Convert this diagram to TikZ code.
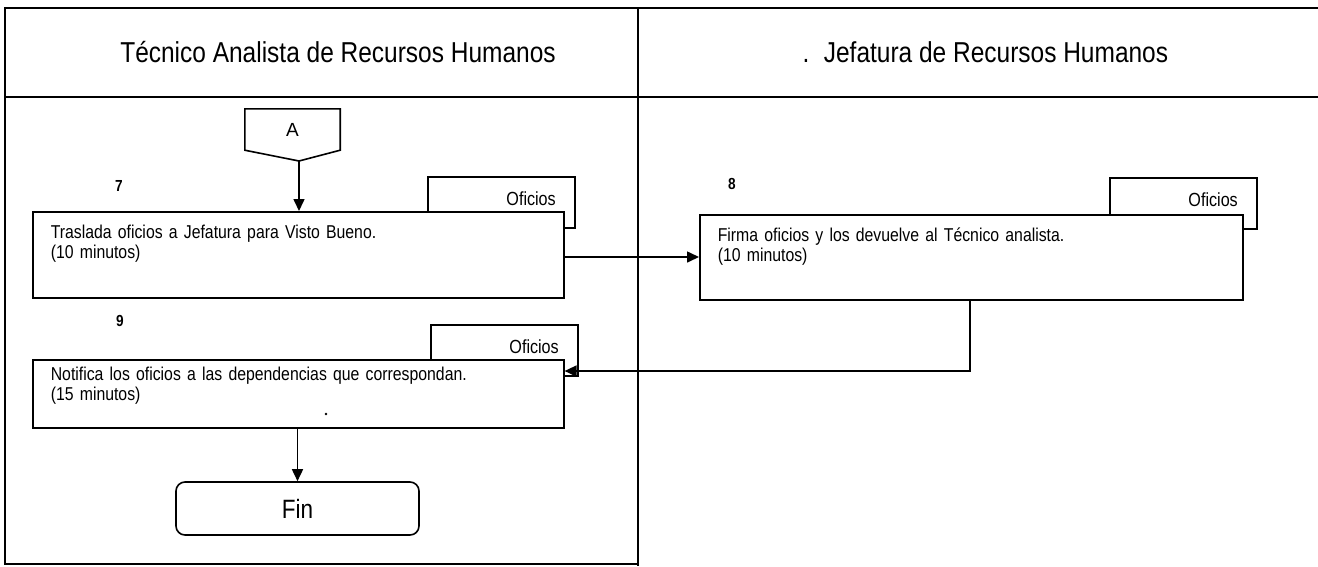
\documentclass[tikz,border=0pt]{standalone}
\usepackage{fontspec}
\setmainfont{Liberation Sans}[FakeStretch=0.85]
\newfontfamily\plainsans{Liberation Sans}
\usetikzlibrary{arrows.meta,calc}
\begin{document}
\begin{tikzpicture}[x=1pt,y=-1pt,
  lane/.style={line width=2pt},
  box/.style={draw, line width=1.6pt, fill=white, rectangle, inner ysep=0pt, align=left,
    font=\fontsize{18.6}{20}\selectfont, anchor=north west},
  tab/.style={draw, line width=1.6pt, fill=white, rectangle, inner ysep=0pt, inner xsep=19pt,
    align=right, anchor=north west, minimum height=51pt, text width=109pt, text depth=8pt,
    font=\fontsize{19}{20}\selectfont},
  num/.style={font=\bfseries\fontsize{16}{18}\selectfont},
  head/.style={font=\fontsize{28.8}{30}\selectfont, anchor=base},
  arr/.style={line width=1.6pt, -{Triangle[length=12pt,width=11pt]}},
  term/.style={draw, line width=1.6pt, rounded corners=9pt, minimum width=243pt, minimum height=53pt,
    font=\fontsize{26.5}{28}\selectfont}]
\useasboundingbox (0,0) rectangle (1318,566);

% lanes
\coordinate (tl) at (5,8);
\coordinate (tr) at (1318,8);
\coordinate (hl) at (5,97);
\coordinate (hr) at (1318,97);
\coordinate (bl) at (5,564);
\coordinate (dt) at (638,8);
\coordinate (db) at (638,566);
\draw[lane] (tr) -- (tl) -- (bl) -- (bl -| dt);
\draw[lane] (hl) -- (hr);
\draw[lane] (dt) -- (db);

\node[head] (h1) at (338,62) {Técnico Analista de Recursos Humanos};
\node[head] (hdot) at (806,62) {.};
\node[head] (h2) at (996,62) {Jefatura de Recursos Humanos};

% connector A
\node[minimum width=95pt, minimum height=41pt, inner sep=0pt, font=\plainsans\fontsize{19}{20}\selectfont]
  (A) at (292.5,129.5) {\raisebox{-3pt}{A}};
\coordinate (Atip) at (299,161);
\draw[line width=1.6pt] (A.south west) -- (A.north west) -- (A.north east) -- (A.south east) -- (Atip) -- cycle;

% step 7
\node[num] (n7) at (119,186) {7};
\node[tab] (t7) at (427,176) {Oficios};
\node[box, minimum width=531pt, minimum height=86pt, inner xsep=18pt, text width=495pt]
  (b7) at (32,211) {Traslada oficios a Jefatura para Visto Bueno.\\(10 minutos)\\\strut};

% step 8
\node[num] (n8) at (732,184) {8};
\node[tab] (t8) at (1109,177) {Oficios};
\node[box, minimum width=543pt, minimum height=85pt, inner xsep=18pt, text width=507pt]
  (b8) at (699,214) {Firma oficios y los devuelve al Técnico analista.\\(10 minutos)\\\strut};

% step 9
\node[num] (n9) at (120,321) {9};
\node[tab] (t9) at (430,324) {Oficios};
\node[box, minimum width=531pt, minimum height=68pt, inner xsep=18pt, text width=495pt]
  (b9) at (32,359) {Notifica los oficios a las dependencias que correspondan.\\(15 minutos)\\[-6pt]\strut};
\node[circle, fill, inner sep=0.9pt] (speck) at (326,414) {};

% end
\node[term] (fin) at (297.5,508.5) {Fin};

% connectors
\coordinate (y78) at (0,257);
\coordinate (turn) at (970,371);
\draw[arr] (Atip) -- (b7.north -| Atip);
\draw[arr] (b7.east |- y78) -- (b8.west |- y78);
\draw[arr] (b8.south -| turn) -- (turn) -- (b9.east |- turn);
\draw[arr] (b9.south -| fin.north) -- (fin.north);
\end{tikzpicture}
\end{document}
